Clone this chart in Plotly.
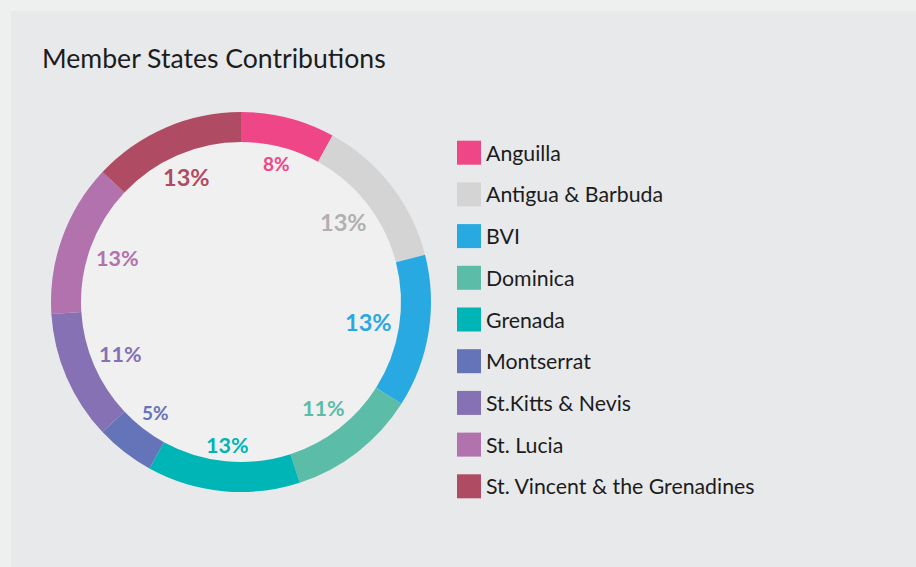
import math
import plotly.graph_objects as go

# Member contributions (percent of total)
countries = ["Anguilla", "Antigua & Barbuda", "BVI", "Dominica", "Grenada",
             "Montserrat", "St.Kitts & Nevis", "St. Lucia", "St. Vincent & the Grenadines"]
shares = [8, 13, 13, 11, 13, 5, 11, 13, 13]
colors = ["#ef4687", "#d4d4d4", "#29a9e1", "#5bbca8", "#00b5b6",
          "#6574b9", "#8571b3", "#b172ae", "#b04b64"]
label_colors = ["#ef4687", "#b0b0b0", "#29a9e1", "#5bbca8", "#00b5b6",
                "#6574b9", "#8571b3", "#b172ae", "#b04b64"]
label_sizes = [19, 23.5, 23.5, 21.5, 21.5, 19, 21.5, 21.5, 23.5]

W, H = 916, 567
CX, CY = 241, 302          # donut centre (px)
R_OUT, R_IN = 190, 160     # ring radii (px)
FONT = "Lato, 'Open Sans', sans-serif"


def px_x(x):
    return x / W


def px_y(y):
    return (H - y) / H


fig = go.Figure()
fig.add_trace(go.Pie(
    labels=countries,
    values=shares,
    sort=False,
    direction="clockwise",
    rotation=0,
    hole=R_IN / R_OUT,
    marker=dict(colors=colors, line=dict(width=0)),
    textinfo="none",
    hoverinfo="label+percent",
    showlegend=False,
    domain=dict(x=[px_x(CX - R_OUT), px_x(CX + R_OUT)],
                y=[px_y(CY + R_OUT), px_y(CY - R_OUT)]),
))

shapes = [
    # card panel
    dict(type="rect", xref="paper", yref="paper", layer="below",
         x0=px_x(11), x1=1, y0=0, y1=px_y(11),
         fillcolor="#e8e9eb", line=dict(width=0)),
    # light disc inside the ring
    dict(type="circle", xref="paper", yref="paper", layer="below",
         x0=px_x(CX - R_IN), x1=px_x(CX + R_IN),
         y0=px_y(CY + R_IN), y1=px_y(CY - R_IN),
         fillcolor="#f0f0f0", line=dict(width=0)),
]

annotations = [
    dict(text="Member States Contributions", xref="paper", yref="paper",
         x=px_x(39.5), y=px_y(58), xanchor="left", yanchor="middle",
         showarrow=False, font=dict(family=FONT, size=26.6, color="#1c1c1c")),
]

# percentage labels just inside the ring, centred on each slice
total = sum(shares)
cum = 0
for val, col, size in zip(shares, label_colors, label_sizes):
    mid = (cum + val / 2) / total
    cum += val
    theta = 2 * math.pi * mid
    txt = f"{round(100 * val / total)}%"
    n_digits = len(txt) - 1
    w = size * (0.55 * n_digits + 0.82)
    h = size * 0.72
    ext = abs(w / 2 * math.sin(theta)) + abs(h / 2 * math.cos(theta))
    r = R_IN - 7 - ext
    x = CX + r * math.sin(theta)
    y = CY - r * math.cos(theta)
    annotations.append(dict(
        text=txt, xref="paper", yref="paper", x=px_x(x), y=px_y(y),
        xanchor="center", yanchor="middle", showarrow=False,
        font=dict(family=FONT, size=size, color=col, weight="bold"),
    ))

# legend: coloured squares with country names
LEG_X, LEG_Y0, LEG_DY, SW = 457, 152.7, 41.7, 24
for i, (name, col) in enumerate(zip(countries, colors)):
    yc = LEG_Y0 + i * LEG_DY
    shapes.append(dict(type="rect", xref="paper", yref="paper",
                       x0=px_x(LEG_X), x1=px_x(LEG_X + SW),
                       y0=px_y(yc + SW / 2), y1=px_y(yc - SW / 2),
                       fillcolor=col, line=dict(width=0)))
    annotations.append(dict(
        text=name, xref="paper", yref="paper", x=px_x(LEG_X + 27), y=px_y(yc),
        xanchor="left", yanchor="middle", showarrow=False,
        font=dict(family=FONT, size=21.3, color="#1c1c1c"),
    ))

fig.update_layout(
    width=W, height=H,
    margin=dict(l=0, r=0, t=0, b=0),
    paper_bgcolor="#eef0ef",
    plot_bgcolor="#eef0ef",
    shapes=shapes,
    annotations=annotations,
    showlegend=False,
)

fig.write_html("out.html")
